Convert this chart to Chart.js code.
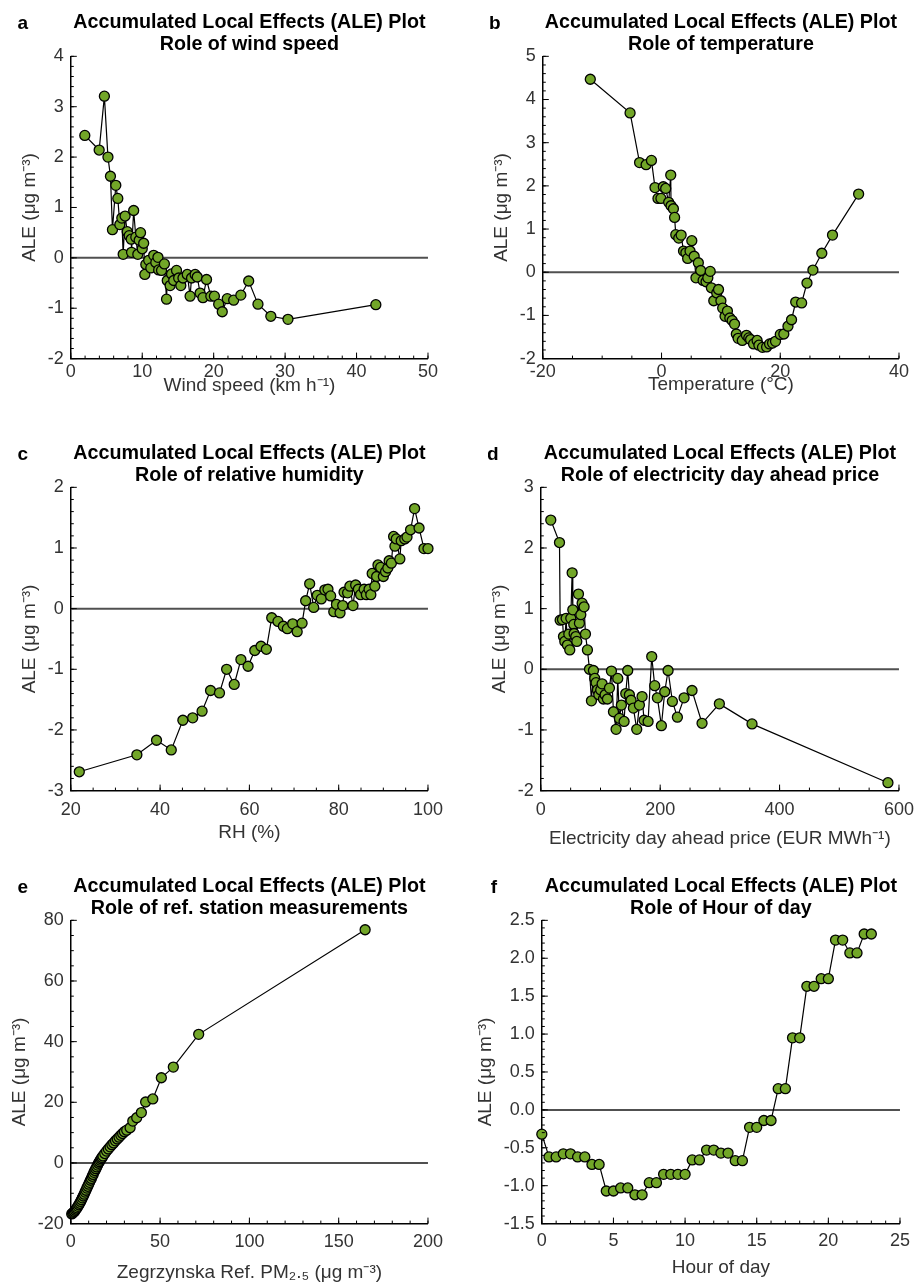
<!DOCTYPE html>
<html>
<head>
<meta charset="utf-8">
<script src="https://cdn.jsdelivr.net/npm/chart.js@4.4.0/dist/chart.umd.min.js"></script>
<style>
	html, body { margin: 0; padding: 0; background: #fff; }
	#page { position: relative; width: 916px; height: 1285px; overflow: hidden; }
	#page canvas { position: absolute; left: 0; top: 0; }
</style>
</head>
<body>
<div id="page">
	<canvas id="chartA" width="458" height="430"></canvas>
	<canvas id="chartB" width="458" height="430"></canvas>
	<canvas id="chartC" width="458" height="430"></canvas>
	<canvas id="chartD" width="458" height="430"></canvas>
	<canvas id="chartE" width="458" height="430"></canvas>
	<canvas id="chartF" width="458" height="430"></canvas>
</div>
<script>
// a - wind speed
const windSpeed = [1.96, 3.97, 4.7, 5.2, 5.55, 5.83, 6.3, 6.58, 6.86, 7.14, 7.33, 7.6, 7.9, 8.17, 8.45, 8.5, 8.8, 9.1, 9.38, 9.57, 9.76, 10.0, 10.2, 10.36, 10.5, 10.9, 11.2, 11.6, 11.9, 12.2, 12.3, 12.7, 13.1, 13.4, 13.5, 13.9, 14.1, 14.4, 14.8, 15.1, 15.4, 15.7, 16.3, 16.7, 16.9, 17.4, 17.7, 18.1, 18.5, 19.0, 19.6, 20.1, 20.7, 21.2, 21.9, 22.8, 23.8, 24.9, 26.2, 28.0, 30.4, 42.7];
const aleWind = [2.43, 2.14, 3.21, 2.0, 1.62, 0.56, 1.44, 1.18, 0.66, 0.79, 0.07, 0.83, 0.52, 0.44, 0.37, 0.11, 0.94, 0.41, 0.07, 0.35, 0.5, 0.18, 0.29, -0.33, -0.13, -0.05, -0.2, 0.05, -0.09, 0.01, -0.24, -0.25, -0.12, -0.82, -0.45, -0.55, -0.32, -0.45, -0.25, -0.4, -0.55, -0.4, -0.33, -0.76, -0.4, -0.33, -0.38, -0.7, -0.79, -0.43, -0.76, -0.76, -0.92, -1.07, -0.81, -0.84, -0.74, -0.46, -0.92, -1.16, -1.22, -0.93];
const windTicks = [0, 10, 20, 30, 40, 50];
const aleWindTicks = [-2, -1, 0, 1, 2, 3, 4];

// b - temperature
const temperature = [-12.0, -5.3, -3.7, -2.6, -1.7, -1.1, -0.6, -0.1, 0.3, 0.7, 1.2, 1.55, 1.6, 2.0, 2.2, 2.4, 2.9, 3.3, 3.7, 4.1, 4.4, 4.8, 5.1, 5.5, 5.8, 6.2, 6.6, 7.0, 7.5, 7.8, 8.2, 8.4, 8.8, 9.3, 9.6, 10.0, 10.3, 10.7, 11.1, 11.5, 11.9, 12.3, 12.6, 12.9, 13.6, 14.3, 14.7, 15.0, 15.5, 16.1, 16.4, 17.0, 17.7, 18.2, 18.7, 19.2, 20.0, 20.6, 21.3, 21.9, 22.6, 23.6, 24.5, 25.5, 27.0, 28.8, 33.2];
const aleTemp = [4.47, 3.69, 2.54, 2.49, 2.59, 1.96, 1.71, 1.71, 1.98, 1.94, 1.62, 2.25, 1.54, 1.47, 1.27, 0.87, 0.79, 0.86, 0.49, 0.45, 0.32, 0.49, 0.73, 0.37, -0.13, 0.22, 0.04, -0.19, -0.22, -0.13, 0.02, -0.36, -0.66, -0.48, -0.40, -0.66, -0.83, -1.02, -0.90, -1.06, -1.12, -1.20, -1.43, -1.53, -1.58, -1.46, -1.52, -1.56, -1.66, -1.58, -1.69, -1.74, -1.73, -1.66, -1.64, -1.60, -1.44, -1.43, -1.25, -1.10, -0.69, -0.71, -0.25, 0.05, 0.44, 0.86, 1.81];
const tempTicks = [-20, 0, 20, 40];
const aleTempTicks = [-2, -1, 0, 1, 2, 3, 4, 5];

// c - relative humidity
const humidity = [21.9, 34.8, 39.2, 42.5, 45.1, 47.3, 49.4, 51.3, 53.3, 54.9, 56.6, 58.1, 59.7, 61.2, 62.6, 63.8, 65.0, 66.4, 67.6, 68.5, 69.7, 70.7, 71.8, 72.6, 73.5, 74.4, 75.2, 76.1, 76.9, 77.6, 78.2, 78.9, 79.5, 80.3, 80.9, 81.2, 82.0, 82.5, 83.2, 83.8, 84.4, 84.9, 85.7, 86.2, 86.8, 87.2, 87.5, 88.1, 88.5, 88.8, 89.4, 90.0, 90.5, 91.0, 91.3, 91.8, 92.3, 92.6, 92.9, 93.7, 94.0, 94.8, 95.3, 96.1, 97.0, 98.0, 99.1, 100.0];
const aleRH = [-2.69, -2.41, -2.17, -2.33, -1.84, -1.80, -1.69, -1.35, -1.39, -1.00, -1.25, -0.84, -0.95, -0.69, -0.62, -0.67, -0.15, -0.21, -0.29, -0.33, -0.25, -0.38, -0.24, 0.13, 0.41, 0.02, 0.22, 0.16, 0.31, 0.32, 0.21, -0.05, 0.07, -0.07, 0.05, 0.27, 0.26, 0.37, 0.05, 0.39, 0.32, 0.23, 0.32, 0.23, 0.32, 0.23, 0.58, 0.37, 0.53, 0.72, 0.68, 0.53, 0.61, 0.67, 0.79, 0.75, 1.19, 1.03, 1.15, 0.82, 1.12, 1.15, 1.18, 1.30, 1.65, 1.33, 0.99, 0.99];
const rhTicks = [20, 40, 60, 80, 100];
const aleRHTicks = [-3, -2, -1, 0, 1, 2];

// d - electricity day ahead price
const price = [16.7, 31.3, 32.4, 36.3, 38.0, 40.2, 42.4, 44.6, 46.9, 48.5, 50.2, 52.5, 53.6, 55.2, 55.8, 58.6, 60.3, 63.1, 64.7, 67.0, 69.2, 72.5, 74.8, 78.1, 81.5, 84.8, 88.2, 90.4, 92.6, 94.9, 97.1, 100.4, 102.7, 104.9, 107.7, 111.6, 115.0, 118.3, 121.7, 126.1, 128.9, 131.7, 135.0, 139.5, 142.3, 145.6, 148.4, 151.2, 155.1, 160.7, 165.2, 169.6, 173.0, 179.7, 185.8, 190.8, 195.3, 202.0, 207.6, 213.2, 220.4, 228.8, 240.0, 253.3, 270.1, 299.1, 353.8, 581.5];
const alePrice = [2.46, 2.09, 0.81, 0.82, 0.54, 0.46, 0.84, 0.40, 0.58, 0.32, 0.84, 1.59, 0.98, 0.74, 0.59, 0.54, 0.46, 1.24, 0.76, 0.90, 1.09, 1.03, 0.58, 0.32, 0.00, -0.52, -0.02, -0.15, -0.22, -0.34, -0.42, -0.34, -0.24, -0.49, -0.42, -0.49, -0.31, -0.03, -0.70, -0.99, -0.15, -0.81, -0.59, -0.86, -0.40, -0.02, -0.42, -0.51, -0.64, -0.99, -0.59, -0.45, -0.84, -0.86, 0.21, -0.27, -0.47, -0.93, -0.37, -0.02, -0.53, -0.79, -0.47, -0.35, -0.89, -0.57, -0.90, -1.87];
const priceTicks = [0, 200, 400, 600];
const alePriceTicks = [-2, -1, 0, 1, 2, 3];

// e - reference station PM2.5
const refPM = [0.5, 1, 1.5, 2, 2.5, 3, 3.5, 4, 4.5, 5, 5.5, 6, 6.5, 7, 7.5, 8, 8.5, 9, 9.5, 10, 10.5, 11, 11.5, 12, 12.5, 13, 13.5, 14, 14.5, 15, 15.5, 16, 16.5, 17, 17.5, 18, 19, 20, 21, 22, 23, 24, 25, 26, 27, 28, 29, 30, 31.3, 33.2, 34.7, 36.9, 39.5, 41.9, 45.9, 50.7, 57.4, 71.6, 164.8];
const aleRef = [-16.8, -16.6, -16.3, -16.0, -15.6, -15.2, -14.8, -14.3, -13.8, -13.3, -12.7, -12.1, -11.5, -10.9, -10.3, -9.6, -9.0, -8.3, -7.7, -7.0, -6.4, -5.7, -5.1, -4.4, -3.8, -3.1, -2.5, -1.9, -1.3, -0.7, -0.1, 0.4, 0.9, 1.4, 1.8, 2.3, 3.1, 3.9, 4.6, 5.3, 6.0, 6.6, 7.3, 7.9, 8.5, 9.1, 9.7, 10.3, 10.8, 11.6, 13.8, 14.9, 16.6, 20.1, 21.1, 28.1, 31.6, 42.4, 76.9];
const refTicks = [0, 50, 100, 150, 200];
const aleRefTicks = [-20, 0, 20, 40, 60, 80];

// f - hour of day
const hourOfDay = [0, 0.5, 1, 1.5, 2, 2.5, 3, 3.5, 4, 4.5, 5, 5.5, 6, 6.5, 7, 7.5, 8, 8.5, 9, 9.5, 10, 10.5, 11, 11.5, 12, 12.5, 13, 13.5, 14, 14.5, 15, 15.5, 16, 16.5, 17, 17.5, 18, 18.5, 19, 19.5, 20, 20.5, 21, 21.5, 22, 22.5, 23];
const aleHour = [-0.32, -0.62, -0.62, -0.58, -0.58, -0.62, -0.62, -0.72, -0.72, -1.07, -1.07, -1.03, -1.03, -1.12, -1.12, -0.96, -0.96, -0.85, -0.85, -0.85, -0.85, -0.66, -0.66, -0.53, -0.53, -0.57, -0.57, -0.67, -0.67, -0.23, -0.23, -0.14, -0.14, 0.28, 0.28, 0.95, 0.95, 1.63, 1.63, 1.73, 1.73, 2.24, 2.24, 2.07, 2.07, 2.32, 2.32];
const hourTicks = [0, 5, 10, 15, 20, 25];
const aleHourTicks = [-1.5, -1.0, -0.5, 0.0, 0.5, 1.0, 1.5, 2.0, 2.5];

const FONT = "'Liberation Sans', Arial, Helvetica, sans-serif";
const MAIN_TITLE = "Accumulated Local Effects (ALE) Plot";
const Y_TITLE = "ALE (μg m⁻³)";

const panels = [
	{ canvas: "chartA", letter: "a", subtitle: "Role of wind speed", xs: windSpeed, ys: aleWind, xTicks: windTicks, yTicks: aleWindTicks, xMinor: 2, yMinor: 0.2, xTitle: "Wind speed (km h⁻¹)", xTickPad: 3, xTitlePad: -12, box: { x: 71, y: 56, w: 357, h: 302.5 } },
	{ canvas: "chartB", letter: "b", subtitle: "Role of temperature", xs: temperature, ys: aleTemp, xTicks: tempTicks, yTicks: aleTempTicks, xMinor: 5, yMinor: 0.2, xTitle: "Temperature (°C)", xTickPad: 3, xTitlePad: -13, box: { x: 542.7, y: 56, w: 356, h: 302.5 } },
	{ canvas: "chartC", letter: "c", subtitle: "Role of relative humidity", xs: humidity, ys: aleRH, xTicks: rhTicks, yTicks: aleRHTicks, xMinor: 5, yMinor: 0.2, xTitle: "RH (%)", xTickPad: 9, xTitlePad: -9, box: { x: 70.7, y: 487.3, w: 357.6, h: 303.7 } },
	{ canvas: "chartD", letter: "d", subtitle: "Role of electricity day ahead price", xs: price, ys: alePrice, xTicks: priceTicks, yTicks: alePriceTicks, xMinor: 50, yMinor: 0.2, xTitle: "Electricity day ahead price (EUR MWh⁻¹)", xTitlePad: -3, xTickPad: 9, box: { x: 541.3, y: 487.3, w: 358.4, h: 303.7 } },
	{ canvas: "chartE", letter: "e", subtitle: "Role of ref. station measurements", xs: refPM, ys: aleRef, xTicks: refTicks, yTicks: aleRefTicks, xMinor: 10, yMinor: 5, xTitle: "Zegrzynska Ref. PM₂.₅ (μg m⁻³)", xTickPad: 8, xTitlePad: 0, box: { x: 70.7, y: 920, w: 357.6, h: 303.3 } },
	{ canvas: "chartF", letter: "f", subtitle: "Role of Hour of day", xs: hourOfDay, ys: aleHour, xTicks: hourTicks, yTicks: aleHourTicks, xMinor: 1, yMinor: 0.1, xTitle: "Hour of day", xTickPad: 7, xTitlePad: -3, yDecimals: 1, box: { x: 542, y: 920, w: 357.7, h: 303.3 } },
];

// inward major/minor tick marks and the panel letter
const matlabAxes = {
	id: "matlabAxes",
	afterDraw(chart, args, opts) {
		const { ctx, chartArea: ca } = chart;
		const xs = chart.scales.x;
		const ys = chart.scales.y;
		ctx.save();
		ctx.strokeStyle = "#000";
		ctx.lineWidth = 1;
		ctx.beginPath();
		const n = Math.round((xs.max - xs.min) / opts.xMinor);
		for (let k = 0; k <= n; k++) {
			const px = xs.getPixelForValue(xs.min + k * opts.xMinor);
			ctx.moveTo(px, ca.bottom);
			ctx.lineTo(px, ca.bottom - 3);
		}
		const m = Math.round((ys.max - ys.min) / opts.yMinor);
		for (let k = 0; k <= m; k++) {
			const py = ys.getPixelForValue(ys.min + k * opts.yMinor);
			ctx.moveTo(ca.left, py);
			ctx.lineTo(ca.left + 3, py);
		}
		opts.xTicks.forEach((v) => {
			const px = xs.getPixelForValue(v);
			ctx.moveTo(px, ca.bottom);
			ctx.lineTo(px, ca.bottom - 6);
		});
		opts.yTicks.forEach((v) => {
			const py = ys.getPixelForValue(v);
			ctx.moveTo(ca.left, py);
			ctx.lineTo(ca.left + 6, py);
		});
		ctx.stroke();
		ctx.fillStyle = "#000";
		ctx.font = "bold 19px " + FONT;
		ctx.textAlign = "center";
		ctx.textBaseline = "middle";
		ctx.fillText(opts.letter, ca.left - 48, ca.top - 33);
		ctx.restore();
	},
};

function makeAxis(ticks, title, tickPad, titlePad, decimals) {
	return {
		type: "linear",
		min: ticks[0],
		max: ticks[ticks.length - 1],
		afterBuildTicks: (scale) => {
			scale.ticks = ticks.map((v) => ({ value: v }));
		},
		ticks: {
			padding: tickPad,
			color: "#333",
			font: { size: 18, family: FONT },
			autoSkip: false,
			maxRotation: 0,
			callback: (v) => (decimals ? v.toFixed(decimals) : String(v)),
		},
		grid: { display: false, drawTicks: false },
		border: { display: true, color: "#000", width: 1.5 },
		title: {
			display: true,
			text: title,
			color: "#333",
			font: { size: 19, family: FONT },
			padding: titlePad,
		},
	};
}

function alePanel(p) {
	const points = p.xs.map((x, i) => ({ x: x, y: p.ys[i] }));
	const xMin = p.xTicks[0];
	const xMax = p.xTicks[p.xTicks.length - 1];
	const ctx = document.getElementById(p.canvas).getContext("2d");
	return new Chart(ctx, {
		type: "scatter",
		data: {
			datasets: [
				{
					data: points,
					showLine: true,
					borderColor: "#000",
					borderWidth: 1.2,
					pointRadius: 5,
					pointBackgroundColor: "#72a628",
					pointBorderColor: "#000",
					pointBorderWidth: 1.3,
					clip: false,
				},
				{
					// zero reference line
					data: [{ x: xMin, y: 0 }, { x: xMax, y: 0 }],
					showLine: true,
					borderColor: "#505050",
					borderWidth: 2,
					pointRadius: 0,
				},
			],
		},
		options: {
			responsive: false,
			maintainAspectRatio: false,
			animation: false,
			events: [],
			layout: { padding: 0 },
			scales: {
				x: makeAxis(p.xTicks, p.xTitle, p.xTickPad, { top: p.xTitlePad, bottom: 0 }),
				y: makeAxis(p.yTicks, Y_TITLE, 7, { top: 0, bottom: 0 }, p.yDecimals),
			},
			plugins: {
				legend: { display: false },
				tooltip: { enabled: false },
				title: {
					display: true,
					text: [MAIN_TITLE, p.subtitle],
					color: "#000",
					fullSize: false,
					font: { size: 19.7, weight: "bold", family: FONT, lineHeight: 1.1 },
					padding: { top: 0, bottom: 1 },
				},
				matlabAxes: { letter: p.letter, xMinor: p.xMinor, yMinor: p.yMinor, xTicks: p.xTicks, yTicks: p.yTicks },
			},
		},
		plugins: [matlabAxes],
	});
}

// size each canvas so its plot area matches the box, then move it there
function place(chart, box) {
	for (let i = 0; i < 2; i++) {
		const ca = chart.chartArea;
		const w = chart.width + (box.w - (ca.right - ca.left));
		const h = chart.height + (box.h - (ca.bottom - ca.top));
		chart.resize(Math.round(w), Math.round(h));
	}
	const ca = chart.chartArea;
	chart.canvas.style.left = box.x - ca.left + "px";
	chart.canvas.style.top = box.y - ca.top + "px";
}

panels.forEach((p) => {
	const chart = alePanel(p);
	place(chart, p.box);
});
</script>
</body>
</html>
